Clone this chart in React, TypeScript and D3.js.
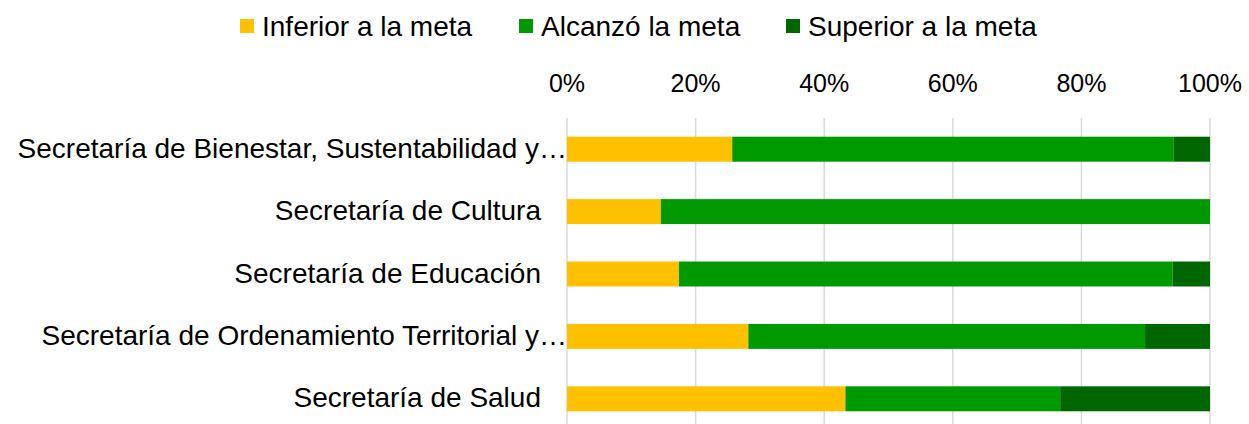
import * as d3 from "d3";

const categories = [
  "Secretaría de Bienestar, Sustentabilidad y…",
  "Secretaría de Cultura",
  "Secretaría de Educación",
  "Secretaría de Ordenamiento Territorial y…",
  "Secretaría de Salud",
];
const seriesNames = ["Inferior a la meta", "Alcanzó la meta", "Superior a la meta"];
const inferior = [25.7, 14.6, 17.4, 28.2, 43.3];
const alcanzo = [68.6, 85.4, 76.8, 61.7, 33.4];
const superior = [5.7, 0, 5.8, 10.1, 23.3];
const tickValues = [0, 0.2, 0.4, 0.6, 0.8, 1];
const colors = ["#FFC000", "#009900", "#006600"];

const W = 1249;
const H = 424;
const FONT = "'Liberation Sans', Arial, sans-serif";

export default function App() {
  const rows = categories.map((c, i) => ({
    cat: c,
    [seriesNames[0]]: inferior[i],
    [seriesNames[1]]: alcanzo[i],
    [seriesNames[2]]: superior[i],
  }));
  const stacked = d3
    .stack<any>()
    .keys(seriesNames)
    .offset(d3.stackOffsetExpand)(rows);

  const x = d3.scaleLinear().domain([0, 1]).range([567, 1210]);
  const y = d3.scaleBand().domain(categories).range([118, 430]).paddingInner(0.6).paddingOuter(0.3);

  const legendX = [240, 519, 786];

  return (
    <div style={{ position: "absolute", left: 0, top: 0 }}>
      <svg width={W} height={H} style={{ display: "block", fontFamily: FONT }}>
        <rect width={W} height={H} fill="#fff" />
        {/* legend */}
        {seriesNames.map((s, i) => (
          <g key={s} transform={`translate(${legendX[i]},0)`}>
            <rect x={0} y={19} width={14} height={14} fill={colors[i]} />
            <text x={22} y={36} fontSize={28} fill="#000">
              {s}
            </text>
          </g>
        ))}
        {/* gridlines */}
        {tickValues.map((t) => (
          <line key={t} x1={x(t)} x2={x(t)} y1={118} y2={H} stroke="#D9D9D9" strokeWidth={1.5} />
        ))}
        {/* axis labels */}
        {tickValues.map((t) => (
          <text key={t} x={x(t)} y={92} textAnchor="middle" fontSize={25} fill="#000">
            {d3.format(".0%")(t)}
          </text>
        ))}
        {/* bars */}
        {stacked.map((s, i) => (
          <g key={s.key} fill={colors[i]}>
            {s.map((d, j) =>
              d[1] - d[0] > 0 ? (
                <rect
                  key={j}
                  x={x(d[0])}
                  y={y(categories[j])}
                  width={x(d[1]) - x(d[0])}
                  height={y.bandwidth()}
                />
              ) : null
            )}
          </g>
        ))}
        {/* category labels */}
        {categories.map((c) => (
          <text
            key={c}
            x={c.endsWith("…") ? 567 : 541}
            y={(y(c) ?? 0) + y.bandwidth() / 2 + 8.5}
            textAnchor="end"
            fontSize={28}
            fill="#000"
          >
            {c}
          </text>
        ))}
      </svg>
    </div>
  );
}
